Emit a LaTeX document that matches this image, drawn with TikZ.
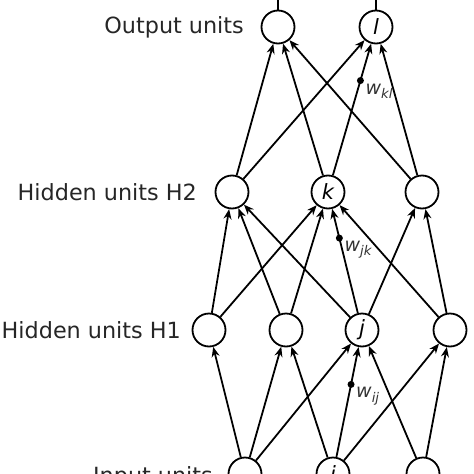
\documentclass[tikz,border=0pt]{standalone}
\usepackage{fontspec}
\setmainfont{DejaVu Sans}
\usetikzlibrary{arrows.meta,positioning}
\tikzset{
    unit/.style={circle,draw,line width=1.8pt,minimum size=33pt,inner sep=0pt,
        font=\fontsize{21}{25}\selectfont\itshape},
    arr/.style={-{Stealth[length=10pt,width=8pt]},line width=1.8pt},
    stub/.style={line width=1.8pt},
    weight dot/.style={circle,fill=black,inner sep=0pt,outer sep=0pt,minimum size=7pt},
    weight label/.style={font=\fontsize{19}{22}\selectfont,text=black!80,inner sep=1pt},
    layer label/.style={font=\fontsize{22.3}{26}\selectfont,text=black!85,anchor=east,inner sep=0pt},
}
\newcommand{\wlab}[1]{\textit{w}\textsubscript{\textit{#1}}}

\begin{document}
\begin{tikzpicture}[x=1pt,y=-1pt]
    \useasboundingbox (0,0) rectangle (474,474);
    \clip (0,0) rectangle (474,474);

    % units
    \node[unit] (o1) at (278,27) {};
    \node[unit] (l)  at (376,27) {l};

    \node[unit] (h21) at (232,192) {};
    \node[unit] (k)   at (328,192) {k};
    \node[unit] (h23) at (422,192) {};

    \node[unit] (h11) at (209,330) {};
    \node[unit] (h12) at (286,330) {};
    \node[unit] (j)   at (362,330) {j};
    \node[unit] (h14) at (450,330) {};

    \node[unit] (in1) at (245,474) {};
    \node[unit] (i)   at (333,474) {i};
    \node[unit] (in3) at (423,474) {};

    % layer names
    \node[layer label] at (244,27) {Output units};
    \node[layer label] at (197,192) {Hidden units H2};
    \node[layer label] at (181,330) {Hidden units H1};
    \node[layer label] at (213,477) {Input units};

    % outgoing lines at the top
    \coordinate (o1 top) at (278,0);
    \coordinate (l top) at (376,0);
    \draw[stub] (o1) -- (o1 top);
    \draw[stub] (l) -- (l top);

    % connections
    \foreach \a/\b in {h21/o1,k/o1,h23/o1,h21/l,h23/l,
                       h11/h21,h12/h21,j/h21,h11/k,h12/k,h14/k,j/h23,h14/h23,
                       in1/h11,in1/h12,in1/j,i/h12,i/h14,in3/j,in3/h14}
        \draw[arr] (\a) -- (\b);

    % weighted connections
    \draw[arr] (k) -- node[weight dot,pos=.72,
        label={[weight label,anchor=north west]-20:\wlab{kl}}] {} (l);
    \draw[arr] (j) -- node[weight dot,pos=.72,
        label={[weight label,anchor=north west]-20:\wlab{jk}}] {} (k);
    \draw[arr] (i) -- node[weight dot,pos=.66,
        label={[weight label,anchor=north west]-20:\wlab{ij}}] {} (j);
\end{tikzpicture}
\end{document}
